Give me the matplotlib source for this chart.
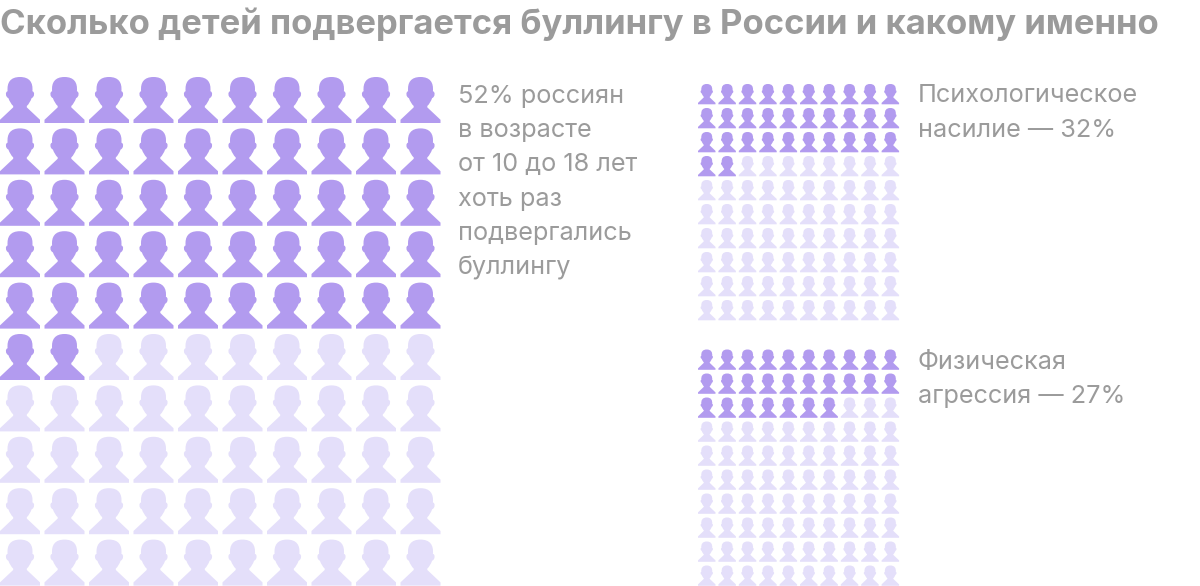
"""
Bullying in Russia: icon grids of 100 children
"""
import matplotlib
matplotlib.use('Agg')
import matplotlib.pyplot as plt
from matplotlib.patches import PathPatch
from matplotlib.path import Path
from matplotlib.transforms import Affine2D

title = 'Сколько детей подвергается буллингу в России и какому именно'
total_all = [100, 100, 100]
shares = [52, 32, 27]
captions = [
    ['52% россиян', 'в возрасте', 'от 10 до 18 лет', 'хоть раз', 'подвергались', 'буллингу'],
    ['Психологическое', 'насилие — 32%'],
    ['Физическая', 'агрессия — 27%'],
]

DARK = '#b29bef'
LIGHT = '#e4dffa'
GREY = '#9b9b9b'

# person icon, unit square, y goes down
verts = [
    (0.50, 0.00),
    (0.26, 0.00), (0.17, 0.12), (0.19, 0.31),
    (0.13, 0.32), (0.13, 0.43), (0.21, 0.46),
    (0.24, 0.53), (0.28, 0.59), (0.33, 0.63),
    (0.33, 0.66),
    (0.00, 0.93),
    (0.00, 1.00),
    (1.00, 1.00),
    (1.00, 0.93),
    (0.67, 0.66),
    (0.67, 0.63),
    (0.72, 0.59), (0.76, 0.53), (0.79, 0.46),
    (0.87, 0.43), (0.87, 0.32), (0.81, 0.31),
    (0.83, 0.12), (0.74, 0.00), (0.50, 0.00),
    (0.50, 0.00),
]
C4, L = Path.CURVE4, Path.LINETO
codes = [Path.MOVETO, C4, C4, C4, C4, C4, C4, C4, C4, C4, L, L, L, L, L, L, L,
         C4, C4, C4, C4, C4, C4, C4, C4, C4, Path.CLOSEPOLY]
person = Path(verts, codes)


def draw_grid(ax, x0, y0, w, h, dx, dy, filled, total):
    for n in range(total):
        row, col = divmod(n, 10)
        color = DARK if n < filled else LIGHT
        tr = Affine2D().scale(w, h).translate(x0 + col * dx, y0 + row * dy)
        ax.add_patch(PathPatch(person, facecolor=color, edgecolor='none',
                               transform=tr + ax.transData))


def draw_caption(ax, x, y, lines, step):
    for i, line in enumerate(lines):
        ax.text(x, y + i * step, line, fontsize=18.2, color=GREY, family='Inter',
                va='baseline', ha='left')


fig = plt.figure(figsize=(12, 5.86), dpi=100)
ax = fig.add_axes([0, 0, 1, 1])
ax.set_xlim(0, 1200)
ax.set_ylim(586, 0)
ax.axis('off')

ax.text(0, 34, title, fontsize=24.95, fontweight='bold', color=GREY, family='Inter',
        va='baseline', ha='left')

draw_grid(ax, 0, 77, 40, 46, 44.5, 51.4, shares[0], total_all[0])
draw_grid(ax, 698, 84, 17.5, 20.3, 20.4, 24, shares[1], total_all[1])
draw_grid(ax, 698, 349.5, 17.5, 20.3, 20.4, 24, shares[2], total_all[2])

draw_caption(ax, 457.5, 102.5, captions[0], 34.4)
draw_caption(ax, 917.5, 102.5, captions[1], 34.4)
draw_caption(ax, 917.5, 368.5, captions[2], 34.4)

plt.savefig('out.png', dpi=100, facecolor='white')
plt.close()
